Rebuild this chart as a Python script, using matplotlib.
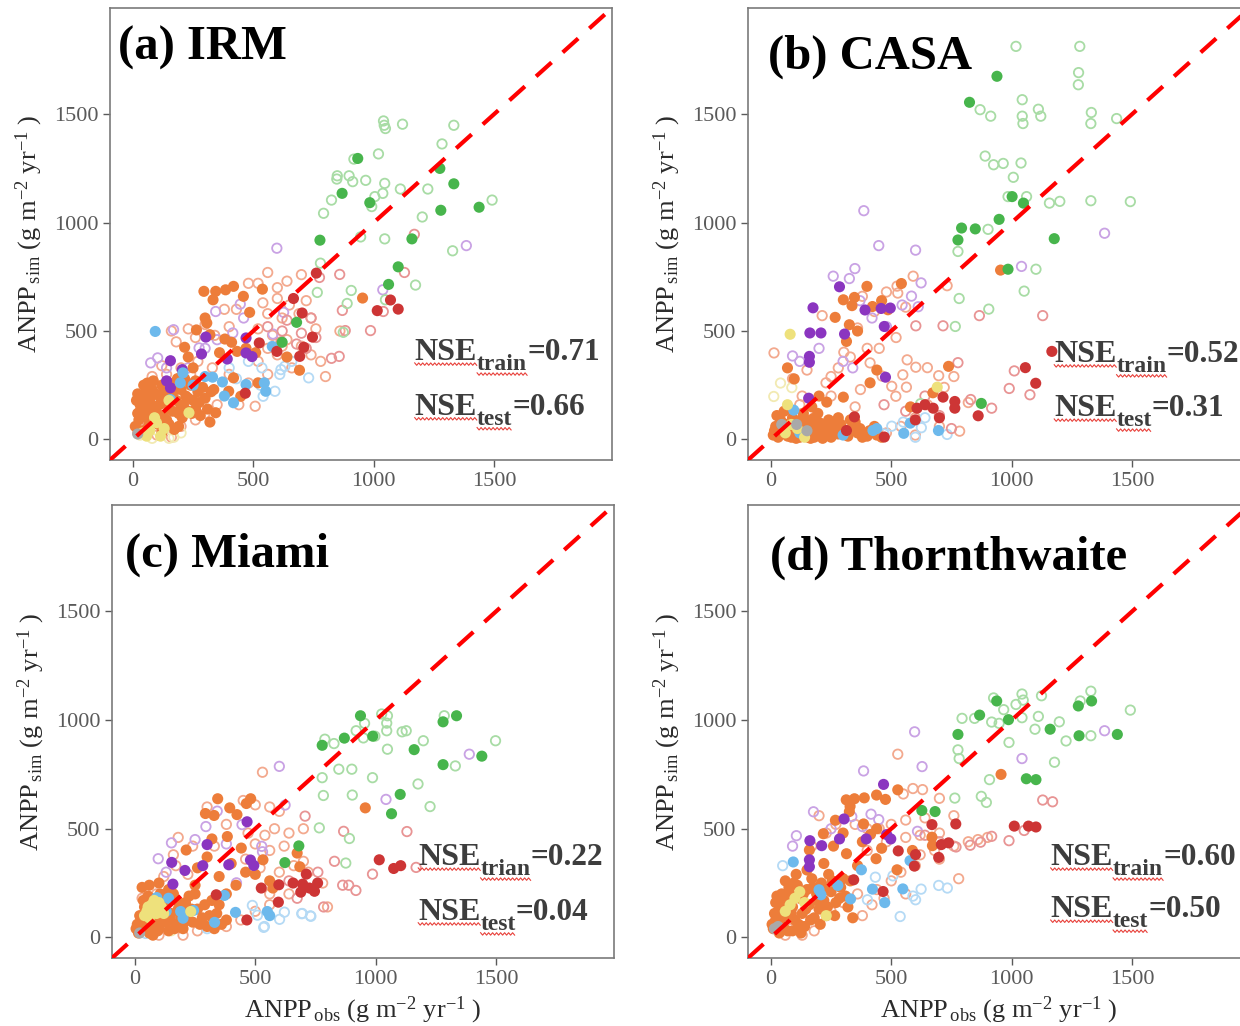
import numpy as np
import matplotlib
matplotlib.use("Agg")
import matplotlib.pyplot as plt

plt.rcParams["font.family"] = ["Liberation Serif", "DejaVu Serif"]
plt.rcParams["mathtext.fontset"] = "custom"
plt.rcParams["mathtext.rm"] = "Liberation Serif"
plt.rcParams["mathtext.it"] = "Liberation Serif:italic"
plt.rcParams["mathtext.bf"] = "Liberation Serif:bold"

# ---- colours: (filled = test, open = train)
COLORS = {
    "orange": ("#ED7D3A", "#F3A98E"),
    "purple": ("#8B35C0", "#C9A2E4"),
    "blue": ("#6DB9EC", "#B5DAF5"),
    "red": ("#CD3535", "#E89494"),
    "green": ("#47B54C", "#A8DCA5"),
    "yellow": ("#EEE17C", "#F2EAB2"),
    "gray": ("#A9A9A9", "#CFCFCF"),
}

TICKS = [0, 500, 1000, 1500]

# ---------------- (a) IRM ----------------
A_ORANGE_FILL = [(20, 120), (30, 160), (40, 200), (50, 140), (60, 100), (70, 180), (80, 230), (90, 150),
                 (100, 120), (110, 200), (120, 250), (130, 170), (140, 90), (150, 140), (160, 210), (170, 260),
                 (180, 180), (190, 120), (200, 230), (210, 160), (220, 200), (240, 250), (250, 180), (260, 140),
                 (270, 220), (280, 110), (300, 190), (320, 80), (25, 90), (45, 250), (65, 60), (85, 270),
                 (105, 70), (125, 110), (145, 240), (165, 130), (185, 280), (205, 100), (230, 130), (35, 40),
                 (15, 180), (55, 220), (10, 60), (30, 130), (50, 180), (60, 260), (75, 140), (95, 210),
                 (110, 160), (130, 220), (150, 70), (165, 190), (180, 230), (200, 150), (215, 280), (230, 190),
                 (245, 120), (260, 270), (275, 170), (290, 240), (310, 140), (325, 220), (20, 210), (70, 80),
                 (120, 30), (190, 60),
                 (295, 683), (344, 683), (385, 690), (418, 706), (459, 660), (538, 693), (333, 644), (485, 586),
                 (264, 505), (307, 537), (320, 483), (215, 425), (382, 463), (410, 448), (433, 406), (954, 652),
                 (692, 319), (336, 230), (418, 284), (448, 199), (398, 222), (520, 261), (172, 46), (344, 123),
                 (300, 560), (250, 330), (360, 400), (230, 380), (470, 420), (510, 400), (640, 380)]
A_ORANGE_OPEN = [(560, 770), (520, 720), (600, 700), (640, 730), (700, 760), (480, 720), (380, 600), (430, 600),
                 (540, 630), (600, 650), (650, 620), (720, 640), (560, 580), (620, 560), (690, 580), (760, 510),
                 (300, 530), (230, 510), (160, 500), (180, 450), (260, 470), (340, 480), (400, 520), (520, 510),
                 (580, 480), (640, 460), (700, 430), (740, 390), (780, 360), (520, 360), (600, 390), (660, 330),
                 (560, 300), (480, 260), (440, 160), (400, 300), (330, 330), (270, 360), (200, 330), (120, 340),
                 (80, 290), (60, 60), (20, 30), (100, 20), (160, 10), (200, 60), (260, 90), (300, 120), (350, 160),
                 (240, 300), (190, 280), (140, 300), (620, 430), (560, 420), (508, 153), (860, 500), (740, 560),
                 (800, 290)]
A_PURPLE_FILL = [(303, 472), (156, 363), (285, 394), (392, 371), (470, 468), (470, 399), (495, 382), (205, 322),
                 (156, 238), (140, 270)]
A_PURPLE_OPEN = [(169, 506), (344, 590), (446, 624), (415, 491), (74, 353), (103, 376), (275, 422), (626, 586),
                 (582, 486), (598, 882), (1385, 894), (1038, 690), (230, 330), (350, 460), (460, 560), (300, 420),
                 (140, 330)]
A_BLUE_FILL = [(93, 498), (208, 307), (197, 261), (331, 287), (372, 265), (470, 253), (546, 261), (552, 222),
               (579, 429), (418, 169), (156, 184), (300, 290), (250, 250), (380, 200)]
A_BLUE_OPEN = [(615, 322), (631, 337), (730, 284), (590, 222), (541, 199), (536, 330), (480, 360), (660, 360),
               (530, 250), (610, 300), (400, 330), (430, 280)]
A_RED_FILL = [(762, 767), (667, 650), (703, 583), (746, 472), (710, 425), (693, 383), (598, 406), (525, 445),
              (1070, 643), (1015, 594), (1102, 601), (467, 213)]
A_RED_OPEN = [(1169, 946), (1128, 770), (859, 761), (870, 595), (882, 502), (987, 502), (775, 747), (700, 490),
              (640, 550), (760, 470), (720, 420), (680, 440), (615, 450), (1040, 590), (740, 560), (825, 374),
              (857, 383), (560, 520), (620, 500)]
A_GREEN_FILL = [(934, 1296), (869, 1135), (984, 1092), (1275, 1250), (1333, 1179), (1279, 1057), (1438, 1071),
                (777, 919), (1159, 925), (1102, 796), (1062, 715), (680, 540), (620, 448)]
A_GREEN_OPEN = [(1041, 1469), (1044, 1449), (1049, 1434), (1120, 1454), (1333, 1449), (1020, 1317), (1284, 1363),
                (918, 1293), (849, 1216), (847, 1201), (898, 1216), (913, 1189), (967, 1195), (1046, 1181),
                (1038, 1135), (1005, 1120), (992, 1074), (1111, 1155), (1225, 1155), (1492, 1104), (825, 1104),
                (792, 1043), (1202, 1026), (946, 934), (1046, 925), (1328, 870), (779, 813), (766, 678),
                (907, 687), (890, 627), (874, 494), (1049, 644), (1174, 712)]
A_YELLOW_FILL = [(57, 15), (98, 77), (233, 123), (115, 15), (70, 40), (150, 180), (90, 100), (40, 30), (130, 50)]
A_YELLOW_OPEN = [(150, 5), (170, 10), (80, 5), (30, 20), (200, 30)]
A_GRAY_FILL = [(20, 25)]

# ---------------- (b) CASA ----------------
B_ORANGE_FILL = [(10, 20), (20, 60), (30, 10), (40, 90), (50, 40), (60, 70), (70, 15), (80, 50), (90, 100),
                 (100, 30), (110, 80), (120, 10), (130, 55), (140, 95), (150, 25), (160, 70), (170, 40), (180, 10),
                 (190, 85), (200, 50), (210, 20), (220, 65), (230, 35), (240, 90), (250, 10), (260, 50), (270, 75),
                 (280, 25), (300, 45), (320, 15), (340, 60), (360, 30), (380, 10), (410, 40), (440, 20), (25, 110),
                 (55, 130), (75, 25), (105, 5), (135, 120), (165, 5), (195, 120), (280, 100), (330, 90),
                 (15, 40), (35, 30), (45, 65), (65, 45), (85, 10), (95, 60), (115, 35), (125, 90), (145, 60),
                 (155, 10), (175, 95), (185, 45), (205, 75), (215, 5), (235, 55), (245, 30), (265, 25), (290, 70),
                 (310, 30), (350, 80), (370, 50), (400, 15), (430, 60), (460, 10),
                 (399, 706), (542, 719), (301, 644), (347, 655), (337, 617), (422, 613), (460, 640), (486, 598),
                 (267, 563), (326, 529), (314, 452), (69, 330), (97, 279), (412, 261), (738, 337), (954, 781),
                 (301, 195), (232, 172), (673, 215), (360, 500), (440, 320), (200, 200), (580, 150), (170, 150)]
B_ORANGE_OPEN = [(13, 399), (591, 753), (732, 709), (524, 707), (527, 675), (566, 367), (602, 333), (650, 331),
                 (697, 294), (548, 298), (502, 245), (519, 199), (563, 241), (784, 38), (213, 571), (360, 514),
                 (303, 402), (412, 353), (462, 292), (372, 230), (229, 261), (330, 380), (280, 330), (250, 290),
                 (400, 420), (450, 420), (520, 470), (560, 610), (480, 680), (380, 660), (430, 590), (250, 200),
                 (130, 200), (600, 100), (650, 160), (720, 240), (760, 290), (820, 170), (540, 60), (480, 30),
                 (600, 20), (700, 60), (350, 150), (150, 320), (90, 280), (180, 100), (120, 160)]
B_PURPLE_FILL = [(285, 704), (175, 607), (162, 491), (208, 491), (306, 486), (391, 597), (458, 604), (496, 606),
                 (471, 521), (160, 383), (160, 356), (476, 287), (157, 190)]
B_PURPLE_OPEN = [(386, 1055), (448, 894), (601, 873), (1041, 798), (1386, 951), (259, 753), (326, 742), (349, 788),
                 (624, 722), (584, 661), (545, 620), (612, 612), (120, 360), (90, 385), (340, 330), (300, 360),
                 (200, 420), (420, 560), (480, 520), (370, 640)]
B_BLUE_FILL = [(95, 135), (579, 75), (696, 41), (424, 41), (552, 28), (300, 20), (120, 30), (440, 50)]
B_BLUE_OPEN = [(502, 61), (625, 54), (732, 23), (600, 10), (470, 25), (380, 30), (550, 80), (640, 100)]
B_RED_FILL = [(1167, 406), (1057, 331), (1100, 259), (861, 109), (607, 144), (674, 144), (715, 195), (764, 175),
              (764, 144), (471, 11), (347, 104), (314, 41), (700, 100), (640, 160), (600, 90)]
B_RED_OPEN = [(1011, 316), (990, 235), (1076, 206), (1129, 571), (866, 571), (602, 524), (715, 524), (777, 354),
              (830, 184), (917, 144), (640, 200), (560, 130), (470, 160), (700, 110), (750, 50)]
B_GREEN_FILL = [(939, 1675), (825, 1555), (1002, 1120), (1049, 1090), (948, 1015), (792, 975), (849, 971),
                (777, 920), (1177, 926), (985, 785), (874, 166)]
B_GREEN_OPEN = [(1018, 1813), (1283, 1813), (1278, 1692), (1277, 1636), (1044, 1567), (1111, 1523), (1121, 1491),
                (1044, 1491), (1047, 1457), (1331, 1508), (1329, 1457), (1436, 1480), (869, 1521), (913, 1491),
                (890, 1307), (925, 1267), (965, 1273), (1039, 1275), (1007, 1209), (985, 1120), (1062, 1120),
                (1157, 1090), (1200, 1098), (1329, 1101), (1493, 1097), (902, 969), (777, 867), (1101, 785),
                (1052, 684), (782, 650), (905, 601), (766, 521), (622, 165)]
B_YELLOW_FILL = [(80, 485), (69, 160), (691, 241), (85, 69), (60, 30), (110, 50), (140, 10)]
B_YELLOW_OPEN = [(12, 198), (87, 239), (40, 260)]
B_GRAY_FILL = [(45, 69), (107, 69), (150, 40)]

# ---------------- (c) Miami ----------------
C_ORANGE_FILL = [(10, 60), (20, 100), (30, 40), (40, 140), (50, 80), (60, 20), (70, 120), (80, 60), (90, 180),
                 (100, 40), (110, 100), (120, 150), (130, 70), (140, 30), (150, 110), (160, 200), (170, 60),
                 (180, 130), (190, 90), (200, 40), (210, 160), (220, 110), (240, 70), (250, 200), (260, 130),
                 (280, 90), (300, 50), (320, 170), (340, 110), (360, 60), (380, 80), (30, 230), (60, 240),
                 (100, 250), (140, 220), (15, 20), (55, 190), (75, 10),
                 (5, 40), (25, 80), (35, 170), (45, 60), (65, 130), (85, 90), (95, 30), (105, 200), (115, 70),
                 (135, 170), (145, 90), (165, 40), (175, 170), (195, 140), (205, 70), (225, 190), (235, 130),
                 (270, 60), (290, 150), (310, 100), (330, 40), (350, 150),
                 (481, 638), (344, 638), (463, 616), (394, 596), (424, 565), (293, 570), (329, 561), (213, 402),
                 (384, 464), (320, 453), (442, 411), (532, 357), (674, 388), (957, 596), (685, 325), (573, 227),
                 (400, 340), (460, 300), (300, 370), (260, 320), (350, 280), (420, 240), (500, 290), (560, 260),
                 (380, 200), (250, 240)]
C_ORANGE_OPEN = [(530, 760), (450, 630), (500, 610), (560, 600), (600, 580), (300, 600), (380, 520), (470, 480),
                 (540, 470), (580, 500), (640, 480), (700, 500), (620, 420), (560, 400), (500, 430), (460, 360),
                 (520, 320), (600, 300), (660, 330), (720, 300), (780, 250), (800, 140), (700, 230), (640, 200),
                 (560, 150), (500, 120), (440, 80), (380, 50), (300, 60), (260, 30), (200, 10), (100, 10),
                 (60, 30), (220, 290), (170, 330), (120, 280), (90, 200), (30, 180), (240, 420), (180, 460),
                 (330, 420), (160, 380), (700, 350), (560, 200)]
C_PURPLE_FILL = [(466, 532), (300, 427), (390, 334), (282, 330), (208, 308), (153, 345), (480, 356), (494, 331),
                 (158, 245)]
C_PURPLE_OPEN = [(1389, 843), (600, 787), (1043, 635), (624, 609), (295, 510), (342, 581), (445, 519), (530, 394),
                 (527, 419), (152, 435), (97, 362), (422, 251), (130, 300), (250, 450), (380, 430)]
C_BLUE_FILL = [(91, 183), (190, 119), (200, 88), (331, 69), (372, 193), (418, 115), (550, 119), (560, 100),
               (244, 124), (140, 180), (130, 120)]
C_BLUE_OPEN = [(535, 46), (601, 83), (621, 116), (731, 97), (693, 109), (509, 102), (488, 147), (538, 50),
               (695, 110), (729, 99), (45, 18), (300, 40)]
C_RED_FILL = [(1015, 357), (1075, 317), (1104, 330), (759, 250), (712, 291), (657, 250), (697, 245), (725, 227),
              (746, 212), (689, 208), (598, 242), (525, 227), (596, 162), (465, 80), (338, 196)]
C_RED_OPEN = [(987, 291), (918, 216), (863, 240), (888, 240), (1168, 322), (1130, 487), (867, 488), (829, 350),
              (674, 180), (784, 140), (707, 558), (760, 300), (640, 260)]
C_GREEN_FILL = [(937, 1020), (1336, 1020), (1280, 992), (988, 926), (870, 917), (778, 884), (1160, 864),
                (1441, 834), (1280, 795), (1102, 658), (1066, 569), (623, 344), (681, 421)]
C_GREEN_OPEN = [(1025, 1028), (1049, 1020), (1046, 986), (1046, 951), (954, 985), (919, 951), (949, 918),
                (997, 926), (1110, 946), (1127, 951), (1198, 905), (1285, 1020), (1049, 866), (789, 912),
                (827, 892), (847, 774), (901, 774), (987, 735), (1176, 706), (903, 655), (778, 735), (783, 653),
                (1226, 602), (891, 455), (766, 504), (876, 342), (1331, 789), (1498, 905)]
C_YELLOW_FILL = [(50, 120), (70, 150), (90, 110), (60, 90), (110, 140), (80, 170), (40, 100), (120, 110),
                 (232, 119), (55, 140), (75, 125), (100, 160), (65, 110), (85, 140)]
C_YELLOW_OPEN = [(20, 60), (150, 30)]
C_GRAY_FILL = [(20, 20)]

# ---------------- (d) Thornthwaite ----------------
D_ORANGE_FILL = [(10, 40), (20, 80), (30, 120), (40, 60), (50, 160), (60, 100), (70, 30), (80, 200), (90, 140),
                 (100, 80), (110, 240), (120, 180), (130, 110), (140, 50), (150, 220), (160, 150), (170, 270),
                 (180, 90), (190, 200), (200, 130), (210, 250), (220, 170), (230, 100), (240, 290), (250, 210),
                 (270, 160), (290, 230), (310, 190), (330, 260), (340, 90), (20, 160), (45, 200), (75, 230),
                 (105, 290), (35, 20), (90, 30), (125, 20), (60, 260),
                 (5, 60), (15, 110), (25, 190), (35, 90), (55, 40), (65, 170), (85, 110), (95, 250), (115, 60),
                 (135, 200), (145, 130), (165, 80), (175, 230), (195, 170), (205, 60), (225, 220), (235, 140),
                 (255, 260), (265, 100), (285, 180), (300, 270), (320, 140),
                 (313, 633), (347, 638), (388, 642), (439, 655), (476, 635), (527, 679), (329, 603), (326, 579),
                 (268, 539), (385, 522), (414, 474), (218, 477), (160, 402), (314, 385), (437, 362), (524, 311),
                 (669, 461), (671, 422), (956, 750), (588, 400), (440, 500), (380, 440), (300, 480), (260, 420),
                 (360, 330), (460, 410), (220, 340), (150, 310)]
D_ORANGE_OPEN = [(527, 843), (590, 685), (630, 680), (550, 660), (700, 640), (760, 560), (640, 550), (560, 540),
                 (500, 520), (450, 500), (400, 500), (350, 520), (270, 520), (200, 560), (230, 480), (170, 420),
                 (400, 400), (480, 440), (560, 460), (620, 470), (700, 480), (760, 420), (820, 440), (860, 450),
                 (900, 460), (620, 380), (540, 300), (600, 330), (700, 360), (780, 270), (680, 400), (500, 260),
                 (440, 220), (360, 200), (300, 160), (250, 120), (200, 90), (180, 30), (130, 10), (80, 40),
                 (60, 10), (380, 100), (420, 150), (470, 180), (560, 200)]
D_PURPLE_FILL = [(468, 704), (304, 545), (162, 445), (211, 422), (285, 453), (396, 453), (481, 473), (498, 453),
                 (160, 357), (160, 325)]
D_PURPLE_OPEN = [(597, 946), (1386, 951), (628, 786), (385, 766), (1043, 823), (177, 578), (106, 468), (336, 556),
                 (416, 567), (448, 542), (609, 488), (90, 420), (250, 500), (380, 510)]
D_BLUE_FILL = [(93, 347), (376, 311), (278, 239), (422, 222), (331, 177), (548, 223), (473, 160), (200, 219),
               (208, 196), (578, 353)]
D_BLUE_OPEN = [(697, 239), (733, 227), (601, 173), (624, 222), (537, 96), (507, 283), (434, 277), (49, 330),
               (401, 173), (590, 190)]
D_RED_FILL = [(1011, 512), (1070, 512), (1101, 508), (669, 519), (768, 522), (529, 398), (601, 381), (596, 328),
              (697, 368), (708, 427), (738, 435), (344, 265), (466, 211)]
D_RED_OPEN = [(1129, 632), (1170, 624), (1052, 492), (989, 445), (917, 465), (871, 438), (828, 424), (769, 416),
              (700, 440), (640, 470)]
D_GREEN_FILL = [(938, 1088), (1332, 1088), (1277, 1065), (867, 1023), (987, 1002), (777, 934), (1160, 958),
                (1280, 928), (1439, 934), (1061, 730), (1101, 726), (627, 584), (682, 579)]
D_GREEN_OPEN = [(925, 1102), (967, 1048), (1043, 1120), (1048, 1092), (1018, 1072), (1329, 1133), (1285, 1088),
                (1493, 1046), (1124, 1112), (1111, 1017), (1198, 992), (794, 1008), (846, 1008), (917, 991),
                (948, 985), (1043, 1011), (1097, 958), (1226, 904), (989, 897), (777, 863), (782, 823),
                (1178, 806), (908, 726), (764, 641), (874, 649), (895, 621), (1329, 928)]
D_YELLOW_FILL = [(100, 180), (120, 210), (80, 150), (230, 100), (60, 120), (140, 160)]
D_YELLOW_OPEN = [(40, 70)]
D_GRAY_FILL = [(15, 40), (30, 50)]

PANELS = [
    dict(title="(a) IRM", sub="train", train="0.71", test="0.66",
         groups={"orange": (A_ORANGE_FILL, A_ORANGE_OPEN), "purple": (A_PURPLE_FILL, A_PURPLE_OPEN),
                 "blue": (A_BLUE_FILL, A_BLUE_OPEN), "red": (A_RED_FILL, A_RED_OPEN),
                 "green": (A_GREEN_FILL, A_GREEN_OPEN), "yellow": (A_YELLOW_FILL, A_YELLOW_OPEN),
                 "gray": (A_GRAY_FILL, [])}),
    dict(title="(b) CASA", sub="train", train="0.52", test="0.31",
         groups={"orange": (B_ORANGE_FILL, B_ORANGE_OPEN), "purple": (B_PURPLE_FILL, B_PURPLE_OPEN),
                 "blue": (B_BLUE_FILL, B_BLUE_OPEN), "red": (B_RED_FILL, B_RED_OPEN),
                 "green": (B_GREEN_FILL, B_GREEN_OPEN), "yellow": (B_YELLOW_FILL, B_YELLOW_OPEN),
                 "gray": (B_GRAY_FILL, [])}),
    dict(title="(c) Miami", sub="trian", train="0.22", test="0.04",
         groups={"orange": (C_ORANGE_FILL, C_ORANGE_OPEN), "purple": (C_PURPLE_FILL, C_PURPLE_OPEN),
                 "blue": (C_BLUE_FILL, C_BLUE_OPEN), "red": (C_RED_FILL, C_RED_OPEN),
                 "green": (C_GREEN_FILL, C_GREEN_OPEN), "yellow": (C_YELLOW_FILL, C_YELLOW_OPEN),
                 "gray": (C_GRAY_FILL, [])}),
    dict(title="(d) Thornthwaite", sub="train", train="0.60", test="0.50",
         groups={"orange": (D_ORANGE_FILL, D_ORANGE_OPEN), "purple": (D_PURPLE_FILL, D_PURPLE_OPEN),
                 "blue": (D_BLUE_FILL, D_BLUE_OPEN), "red": (D_RED_FILL, D_RED_OPEN),
                 "green": (D_GREEN_FILL, D_GREEN_OPEN), "yellow": (D_YELLOW_FILL, D_YELLOW_OPEN),
                 "gray": (D_GRAY_FILL, [])}),
]

# axes boxes in figure pixels: left, top, right, bottom
W, H = 1240, 1026
BOXES = [(110, 8, 612, 460), (748, 8, 1250, 460), (112, 505, 614, 958), (748, 505, 1250, 958)]
TITLE_POS = [(0.016, 0.885), (0.040, 0.867), (0.026, 0.863), (0.044, 0.857)]
NSE_POS = [(0.607, 0.221, 0.100), (0.610, 0.217, 0.097), (0.610, 0.205, 0.084), (0.603, 0.205, 0.090)]

LIM = (-95, 1990)
TEXT_GRAY = "#3d3d3d"


def wavy(ax, bb, y_off):
    x = np.arange(bb.x0, bb.x1, 2.0)
    y = bb.y0 - y_off + np.where(np.arange(x.size) % 2 == 0, 1.2, -1.2)
    pts = ax.transAxes.inverted().transform(np.column_stack([x, y]))
    ax.plot(pts[:, 0], pts[:, 1], transform=ax.transAxes, color="#E8403A",
            lw=0.8, clip_on=False, zorder=6)


def nse_label(ax, renderer, x, y, sub, value):
    inv = ax.transAxes.inverted()
    kw = dict(transform=ax.transAxes, fontweight="bold", color=TEXT_GRAY, va="baseline", zorder=6)
    t1 = ax.text(x, y, "NSE", fontsize=23, **kw)
    bb1 = t1.get_window_extent(renderer)
    x1 = inv.transform((bb1.x1, bb1.y0))[0]
    t2 = ax.text(x1, y - 0.022, sub, fontsize=17, **kw)
    bb2 = t2.get_window_extent(renderer)
    x2 = inv.transform((bb2.x1, bb2.y0))[0]
    ax.text(x2, y, "=" + value, fontsize=22.5, **kw)
    wavy(ax, bb1, -3)
    wavy(ax, bb2, -1)


fig = plt.figure(figsize=(W / 100, H / 100), dpi=100)
renderer = fig.canvas.get_renderer()

for i, (panel, box) in enumerate(zip(PANELS, BOXES)):
    l, t, r, b = box
    ax = fig.add_axes([l / W, 1 - b / H, (r - l) / W, (b - t) / H])
    ax.set_xlim(*LIM)
    ax.set_ylim(*LIM)

    # open (training) circles first, then filled (test) circles
    for name, (filled, opened) in panel["groups"].items():
        if opened:
            xs, ys = zip(*opened)
            ax.scatter(xs, ys, s=46, facecolors="none", edgecolors=COLORS[name][1], linewidths=1.3, zorder=2)
    for name, (filled, opened) in panel["groups"].items():
        if filled:
            xs, ys = zip(*filled)
            ax.scatter(xs, ys, s=64, color=COLORS[name][0], edgecolors="none", zorder=3)

    ax.axline((0, 0), slope=1, color="#FF0000", lw=3, dashes=(5, 3.6), zorder=5)

    ax.set_xticks(TICKS)
    ax.set_yticks(TICKS)
    ax.tick_params(labelsize=16, labelcolor="#5a5a5a", color="#5a5a5a", length=5, width=1)
    for sp in ax.spines.values():
        sp.set_color("#7a7a7a")
        sp.set_linewidth(1.2)

    ax.set_ylabel("ANPP$_{\\,\\mathrm{sim}}$ (g m$^{-2}$ yr$^{-1}$ )", fontsize=19, color="#2b2b2b", labelpad=6)
    if i >= 2:
        ax.set_xlabel("ANPP$_{\\,\\mathrm{obs}}$ (g m$^{-2}$ yr$^{-1}$ )", fontsize=19, color="#2b2b2b", labelpad=4)

    tx, ty = TITLE_POS[i]
    ax.text(tx, ty, panel["title"], transform=ax.transAxes, fontsize=35, fontweight="bold",
            color="black", va="baseline", zorder=6)

    nx, ny1, ny2 = NSE_POS[i]
    nse_label(ax, renderer, nx, ny1, panel["sub"], panel["train"])
    nse_label(ax, renderer, nx, ny2, "test", panel["test"])

fig.savefig("out.png", dpi=100)
